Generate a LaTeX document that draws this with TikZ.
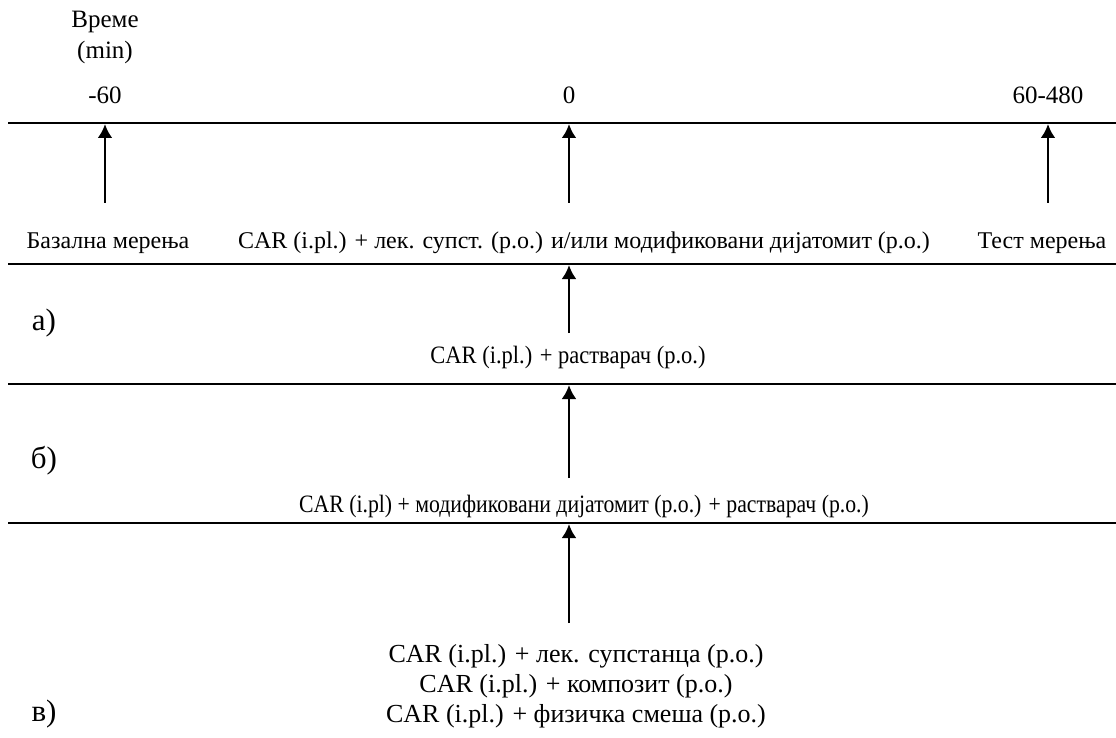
\documentclass[tikz,border=0pt]{standalone}
\usepackage{fontspec}
\setmainfont{Liberation Serif}
\usetikzlibrary{arrows.meta}

\begin{document}
\begin{tikzpicture}[x=1pt,y=-1pt,
  txt/.style={font=\fontsize{25}{30}\selectfont, inner sep=0pt, align=center},
  rowtxt/.style={font=\fontsize{24}{30}\selectfont, inner sep=0pt},
  grouplbl/.style={font=\fontsize{31}{34}\selectfont, inner sep=0pt},
  uparrow/.style={-{Latex[length=14pt,width=15pt]}, line width=2.8pt},
  rule/.style={line width=1.8pt}]
  \useasboundingbox (0,0) rectangle (1116,738);
  % time axis
  \node[txt] (vreme) at (105,22) {Време};
  \node[txt] (min) at (105,52) {(min)};
  \node[txt] (tm60) at (105,95) {-60};
  \node[txt] (t0) at (569,95) {0};
  \node[txt] (t480) at (1048,95) {60-480};
  \draw[rule] (8,123) -- (1116,123);
  \foreach \n/\x in {a/105,b/569,c/1048}{
    \coordinate (top\n) at (\x,124);
    \coordinate (bot\n) at (\x,203);
    \draw[uparrow] (bot\n) -- (top\n);}
  \node[rowtxt] (bazal) at (108,243) {Базална мерења};
  \node[rowtxt] (treat) at (584,243) {CAR (i.pl.) + лек. супст. (р.о.) и/или модификовани дијатомит (р.о.)};
  \node[rowtxt] (test) at (1042,243) {Тест мерења};
  % а)
  \draw[rule] (8,264) -- (1116,264);
  \coordinate (topd) at (569,265);
  \coordinate (botd) at (569,333);
  \draw[uparrow] (botd) -- (topd);
  \node[grouplbl] (ga) at (44,323) {а)};
  \node[txt, xscale=0.9] (solv) at (568,357) {CAR (i.pl.) + растварач (р.о.)};
  % б)
  \draw[rule] (8,384) -- (1116,384);
  \coordinate (tope) at (569,385);
  \coordinate (bote) at (569,478);
  \draw[uparrow] (bote) -- (tope);
  \node[grouplbl] (gb) at (44,461) {б)};
  \node[txt, xscale=0.87] (mod) at (584,506) {CAR (i.pl) + модификовани дијатомит (р.о.) + растварач (р.о.)};
  % в)
  \draw[rule] (8,523) -- (1116,523);
  \coordinate (topf) at (569,524);
  \coordinate (botf) at (569,623);
  \draw[uparrow] (botf) -- (topf);
  \node[grouplbl] (gc) at (44,714) {в)};
  \node[txt, font=\fontsize{26}{30}\selectfont] (mix) at (576,686) {CAR (i.pl.) + лек. супстанца (р.о.)\\CAR (i.pl.) + композит (р.о.)\\CAR (i.pl.) + физичка смеша (р.о.)};
\end{tikzpicture}
\end{document}
